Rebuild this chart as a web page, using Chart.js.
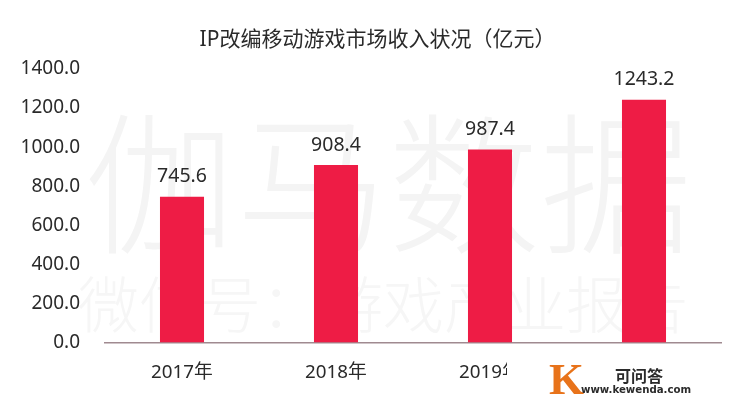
<!DOCTYPE html>
<html><head><meta charset="utf-8">
<style>html,body{margin:0;padding:0;background:#fff}#w{width:740px;height:412px}</style>
<script src="https://cdn.jsdelivr.net/npm/chart.js@4"></script>
</head><body><div id="w"><canvas id="c" width="740" height="412"></canvas></div>
<script>
const categories = ['2017年','2018年','2019年','2020年'];
const revenue = [745.6, 908.4, 987.4, 1243.2];
const yTicks = [0,200,400,600,800,1000,1200,1400];
const titleText = 'IP改编移动游戏市场收入状况（亿元）';
const FONT = '"Noto Sans","Noto Sans CJK SC",sans-serif';

const watermark = {
  id:'watermark',
  beforeDatasetsDraw(ch){
    const c = ch.ctx; c.save();
    c.textBaseline='middle'; c.textAlign='left';
    c.fillStyle='#f4f4f4';
    c.font='300 152px "Noto Sans CJK SC"';
    c.fillText('伽马数据',84,184);
    c.fillStyle='#f6f6f6';
    c.font='300 61px "Noto Sans CJK SC"';
    c.fillText('微信号：游戏产业报告',78,305);
    c.restore();
  }
};
const valueLabels = {
  id:'valueLabels',
  afterDatasetsDraw(ch){
    const c = ch.ctx; c.save();
    c.font='19.5px '+FONT; c.fillStyle='#2a2a2a';
    c.textAlign='center'; c.textBaseline='middle';
    ch.getDatasetMeta(0).data.forEach((b,i)=>{
      c.fillText(revenue[i].toFixed(1), b.x, b.y-20);
    });
    c.restore();
  }
};
const heading = {
  id:'heading',
  afterDraw(ch){
    const c = ch.ctx; c.save();
    c.font='21px '+FONT; c.fillStyle='#2a2a2a';
    c.textAlign='center'; c.textBaseline='middle';
    c.fillText(titleText,377.5,40);
    c.restore();
  }
};
const logo = {
  id:'logo',
  afterDraw(ch){
    const c = ch.ctx; c.save();
    c.fillStyle='#fff';
    c.fillRect(507,350,233,62);
    c.textBaseline='middle'; c.textAlign='left';
    c.fillStyle='#e8731a';
    c.font='bold 45px "Liberation Serif"';
    c.fillText('K',549,382);
    c.fillStyle='#2b2b2b';
    c.font='bold 16px "Noto Sans CJK SC"';
    c.fillText('可问答',615,376);
    c.font='bold 10.2px "DejaVu Sans"';
    c.fillText('www.kewenda.com',581,390);
    c.restore();
  }
};
new Chart(document.getElementById('c'),{
  type:'bar',
  data:{labels:categories,datasets:[{data:revenue,backgroundColor:'#ee1c45',barPercentage:0.286,categoryPercentage:1}]},
  plugins:[watermark,valueLabels,heading,logo],
  options:{
    responsive:false,animation:false,
    layout:{padding:{left:0,right:19,top:69,bottom:0}},
    plugins:{
      legend:{display:false},tooltip:{enabled:false},title:{display:false}
    },
    scales:{
      x:{
        afterFit(s){s.height=69.5;},
        grid:{display:false,drawTicks:false},
        border:{display:true,color:'#a08a90',width:1.5},
        ticks:{color:'#2a2a2a',font:{family:FONT,size:18.8},padding:19,maxRotation:0}
      },
      y:{
        min:0,max:1400,
        afterFit(s){s.width=105;},
        afterBuildTicks(s){s.ticks=yTicks.map(v=>({value:v}));},
        grid:{display:false,drawTicks:false},
        border:{display:false},
        ticks:{color:'#2a2a2a',font:{family:FONT,size:19},padding:25,callback:v=>v.toFixed(1)}
      }
    }
  }
});
</script></body></html>
